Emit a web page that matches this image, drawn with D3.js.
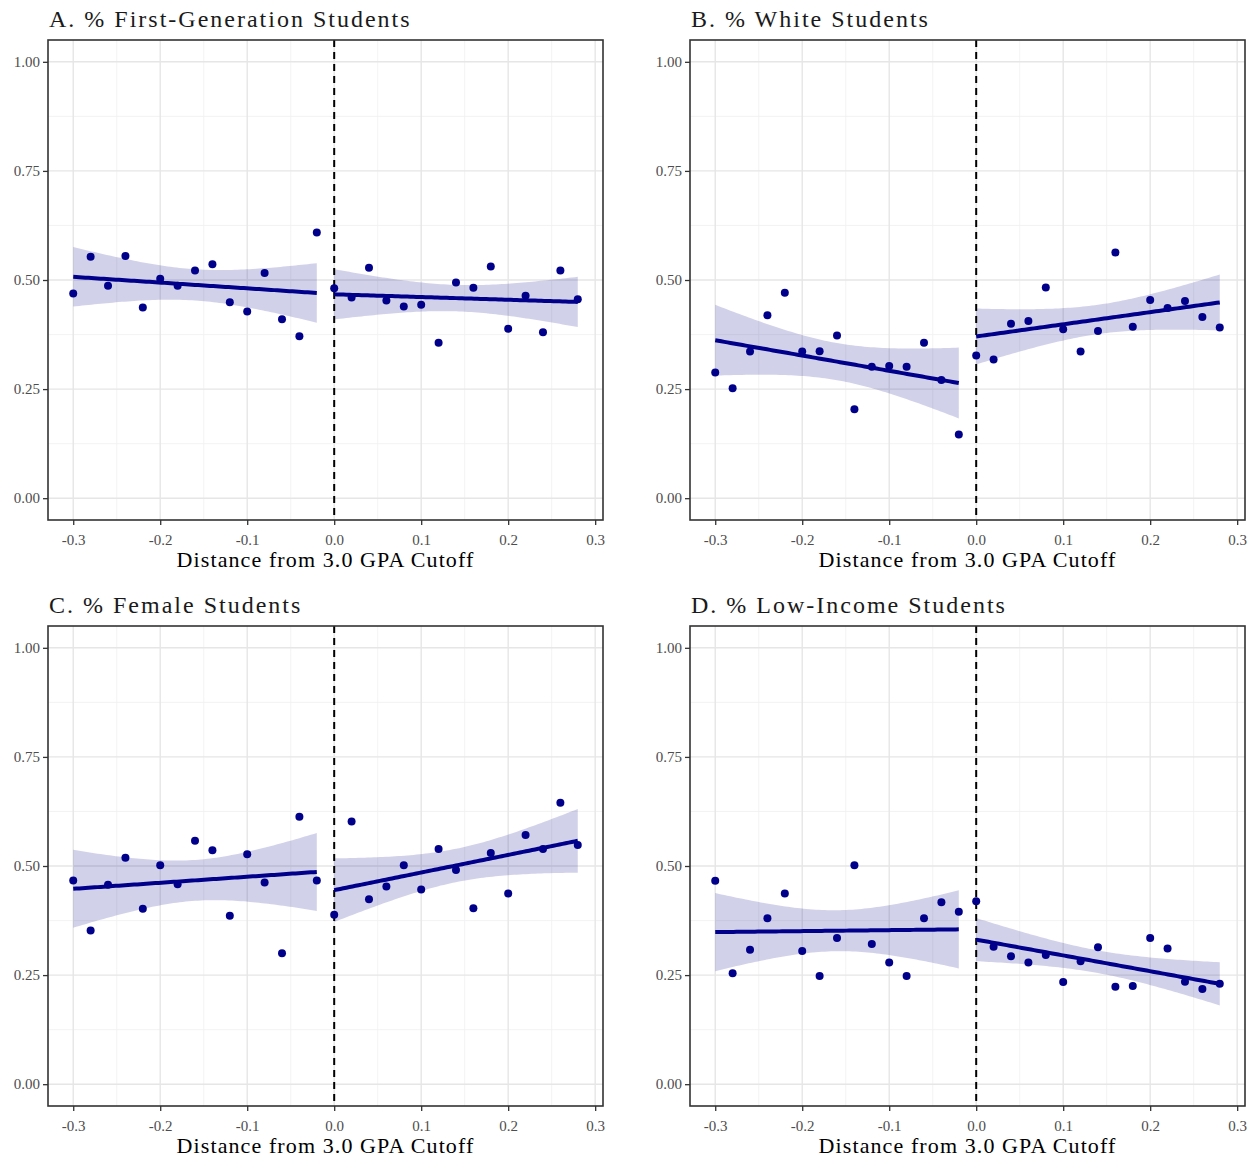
<!DOCTYPE html>
<html>
<head>
<meta charset="utf-8">
<script src="https://cdn.jsdelivr.net/npm/d3@7"></script>
<style>
  body { margin: 0; background: #fff; }
  svg text { font-family: "Liberation Serif", "DejaVu Serif", serif; }
</style>
</head>
<body>
<svg id="chart" width="1254" height="1162"></svg>
<script>
// Bin centres (distance from the 3.0 GPA cutoff)
const binsBelow = [-0.30, -0.28, -0.26, -0.24, -0.22, -0.20, -0.18, -0.16, -0.14, -0.12, -0.10, -0.08, -0.06, -0.04, -0.02];
const binsAbove = [0.00, 0.02, 0.04, 0.06, 0.08, 0.10, 0.12, 0.14, 0.16, 0.18, 0.20, 0.22, 0.24, 0.26, 0.28];

// Bin means per outcome, below and above the cutoff
const firstGenBelow = [0.469, 0.553, 0.487, 0.555, 0.437, 0.503, 0.487, 0.522, 0.536, 0.449, 0.428, 0.516, 0.410, 0.371, 0.609];
const firstGenAbove = [0.481, 0.460, 0.528, 0.453, 0.439, 0.443, 0.356, 0.494, 0.482, 0.531, 0.388, 0.464, 0.380, 0.522, 0.456];

const whiteBelow = [0.288, 0.252, 0.336, 0.419, 0.471, 0.336, 0.337, 0.373, 0.204, 0.301, 0.303, 0.301, 0.356, 0.271, 0.146];
const whiteAbove = [0.327, 0.318, 0.400, 0.406, 0.483, 0.387, 0.336, 0.383, 0.563, 0.393, 0.454, 0.436, 0.452, 0.415, 0.391];

const femaleBelow = [0.467, 0.352, 0.457, 0.519, 0.402, 0.502, 0.458, 0.558, 0.536, 0.386, 0.527, 0.462, 0.300, 0.613, 0.467];
const femaleAbove = [0.388, 0.602, 0.424, 0.453, 0.502, 0.446, 0.539, 0.491, 0.403, 0.530, 0.437, 0.571, 0.539, 0.645, 0.548];

const lowIncomeBelow = [0.466, 0.254, 0.308, 0.380, 0.437, 0.305, 0.248, 0.335, 0.502, 0.321, 0.279, 0.248, 0.380, 0.417, 0.395];
const lowIncomeAbove = [0.419, 0.315, 0.293, 0.279, 0.296, 0.234, 0.282, 0.314, 0.223, 0.225, 0.335, 0.311, 0.235, 0.218, 0.230];

const panelTitles = ["A. % First-Generation Students", "B. % White Students", "C. % Female Students", "D. % Low-Income Students"];
const xTicks = [-0.3, -0.2, -0.1, 0.0, 0.1, 0.2, 0.3];
const yTicks = [0.00, 0.25, 0.50, 0.75, 1.00];
const xAxisTitle = "Distance from 3.0 GPA Cutoff";

const panels = [
  { title: panelTitles[0], below: firstGenBelow, above: firstGenAbove, left: 48, top: 40 },
  { title: panelTitles[1], below: whiteBelow, above: whiteAbove, left: 690, top: 40 },
  { title: panelTitles[2], below: femaleBelow, above: femaleAbove, left: 48, top: 626 },
  { title: panelTitles[3], below: lowIncomeBelow, above: lowIncomeAbove, left: 690, top: 626 }
];

const W = 555, H = 480;
const markColor = "#00008B";
const svg = d3.select("#chart");

// Ordinary least squares fit with a 95% confidence band (t quantile, df = n - 2)
function lmFit(xs, ys) {
  const n = xs.length;
  const mx = d3.mean(xs), my = d3.mean(ys);
  let sxx = 0, sxy = 0;
  xs.forEach((x, i) => { sxx += (x - mx) ** 2; sxy += (x - mx) * (ys[i] - my); });
  const b = sxy / sxx, a = my - b * mx;
  let sse = 0;
  xs.forEach((x, i) => { sse += (ys[i] - (a + b * x)) ** 2; });
  const s = Math.sqrt(sse / (n - 2));
  const tq = 2.160; // t(0.975, 13)
  const lo = d3.min(xs), hi = d3.max(xs);
  return d3.range(0, 81).map(k => {
    const x = lo + (hi - lo) * k / 80;
    const fit = a + b * x;
    const se = s * Math.sqrt(1 / n + (x - mx) ** 2 / sxx);
    return { x, fit, lower: fit - tq * se, upper: fit + tq * se };
  });
}

panels.forEach(p => {
  const g = svg.append("g").attr("transform", `translate(${p.left},${p.top})`);
  const x = d3.scaleLinear().domain([-0.329, 0.309]).range([0, W]);
  const y = d3.scaleLinear().domain([-0.05, 1.05]).range([H, 0]);

  // minor grid
  g.append("g").selectAll("line").data([-0.25, -0.15, -0.05, 0.05, 0.15, 0.25]).join("line")
    .attr("x1", d => x(d)).attr("x2", d => x(d)).attr("y1", 0).attr("y2", H)
    .attr("stroke", "#F0F0F0").attr("stroke-width", 0.8);
  g.append("g").selectAll("line").data([0.125, 0.375, 0.625, 0.875]).join("line")
    .attr("y1", d => y(d)).attr("y2", d => y(d)).attr("x1", 0).attr("x2", W)
    .attr("stroke", "#F0F0F0").attr("stroke-width", 0.8);
  // major grid
  g.append("g").selectAll("line").data(xTicks).join("line")
    .attr("x1", d => x(d)).attr("x2", d => x(d)).attr("y1", 0).attr("y2", H)
    .attr("stroke", "#E6E6E6").attr("stroke-width", 1.4);
  g.append("g").selectAll("line").data(yTicks).join("line")
    .attr("y1", d => y(d)).attr("y2", d => y(d)).attr("x1", 0).attr("x2", W)
    .attr("stroke", "#E6E6E6").attr("stroke-width", 1.4);

  // confidence bands on each side of the cutoff
  [[binsBelow, p.below], [binsAbove, p.above]].forEach(([xs, ys]) => {
    const fit = lmFit(xs, ys);
    g.append("path").datum(fit)
      .attr("d", d3.area().x(d => x(d.x)).y0(d => y(d.lower)).y1(d => y(d.upper)))
      .attr("fill", markColor).attr("fill-opacity", 0.18);
  });

  // cutoff line
  g.append("line")
    .attr("x1", x(0)).attr("x2", x(0)).attr("y1", 0).attr("y2", H)
    .attr("stroke", "#000").attr("stroke-width", 2).attr("stroke-dasharray", "7,5");

  // fitted lines and bin means
  [[binsBelow, p.below], [binsAbove, p.above]].forEach(([xs, ys]) => {
    const fit = lmFit(xs, ys);
    g.append("path").datum(fit)
      .attr("d", d3.line().x(d => x(d.x)).y(d => y(d.fit)))
      .attr("fill", "none").attr("stroke", markColor).attr("stroke-width", 4);
    g.append("g").selectAll("circle").data(xs.map((v, i) => [v, ys[i]])).join("circle")
      .attr("cx", d => x(d[0])).attr("cy", d => y(d[1])).attr("r", 4)
      .attr("fill", markColor);
  });

  // panel border
  g.append("rect").attr("width", W).attr("height", H)
    .attr("fill", "none").attr("stroke", "#333").attr("stroke-width", 1.6);

  // axes
  const ya = g.append("g").call(d3.axisLeft(y).tickValues(yTicks).tickFormat(d => d.toFixed(2)).tickSize(5).tickPadding(3));
  const xa = g.append("g").attr("transform", `translate(0,${H})`)
    .call(d3.axisBottom(x).tickValues(xTicks).tickFormat(d => (Math.abs(d) < 1e-9 ? 0 : d).toFixed(1)).tickSize(5).tickPadding(9));
  [ya, xa].forEach(a => {
    a.select(".domain").remove();
    a.selectAll(".tick line").attr("stroke", "#333").attr("stroke-width", 1.3);
    a.selectAll(".tick text").attr("fill", "#4D4D4D").style("font-size", "15px")
      .style("font-family", "'Liberation Serif', serif");
  });

  // titles
  g.append("text").attr("x", 1).attr("y", -13)
    .style("font-size", "24px").style("letter-spacing", "2px").attr("fill", "#1a1a1a").text(p.title);
  g.append("text").attr("x", W / 2).attr("y", H + 47).attr("text-anchor", "middle")
    .style("font-size", "22px").style("letter-spacing", "1.1px").attr("fill", "#000").text(xAxisTitle);
});
</script>
</body>
</html>
